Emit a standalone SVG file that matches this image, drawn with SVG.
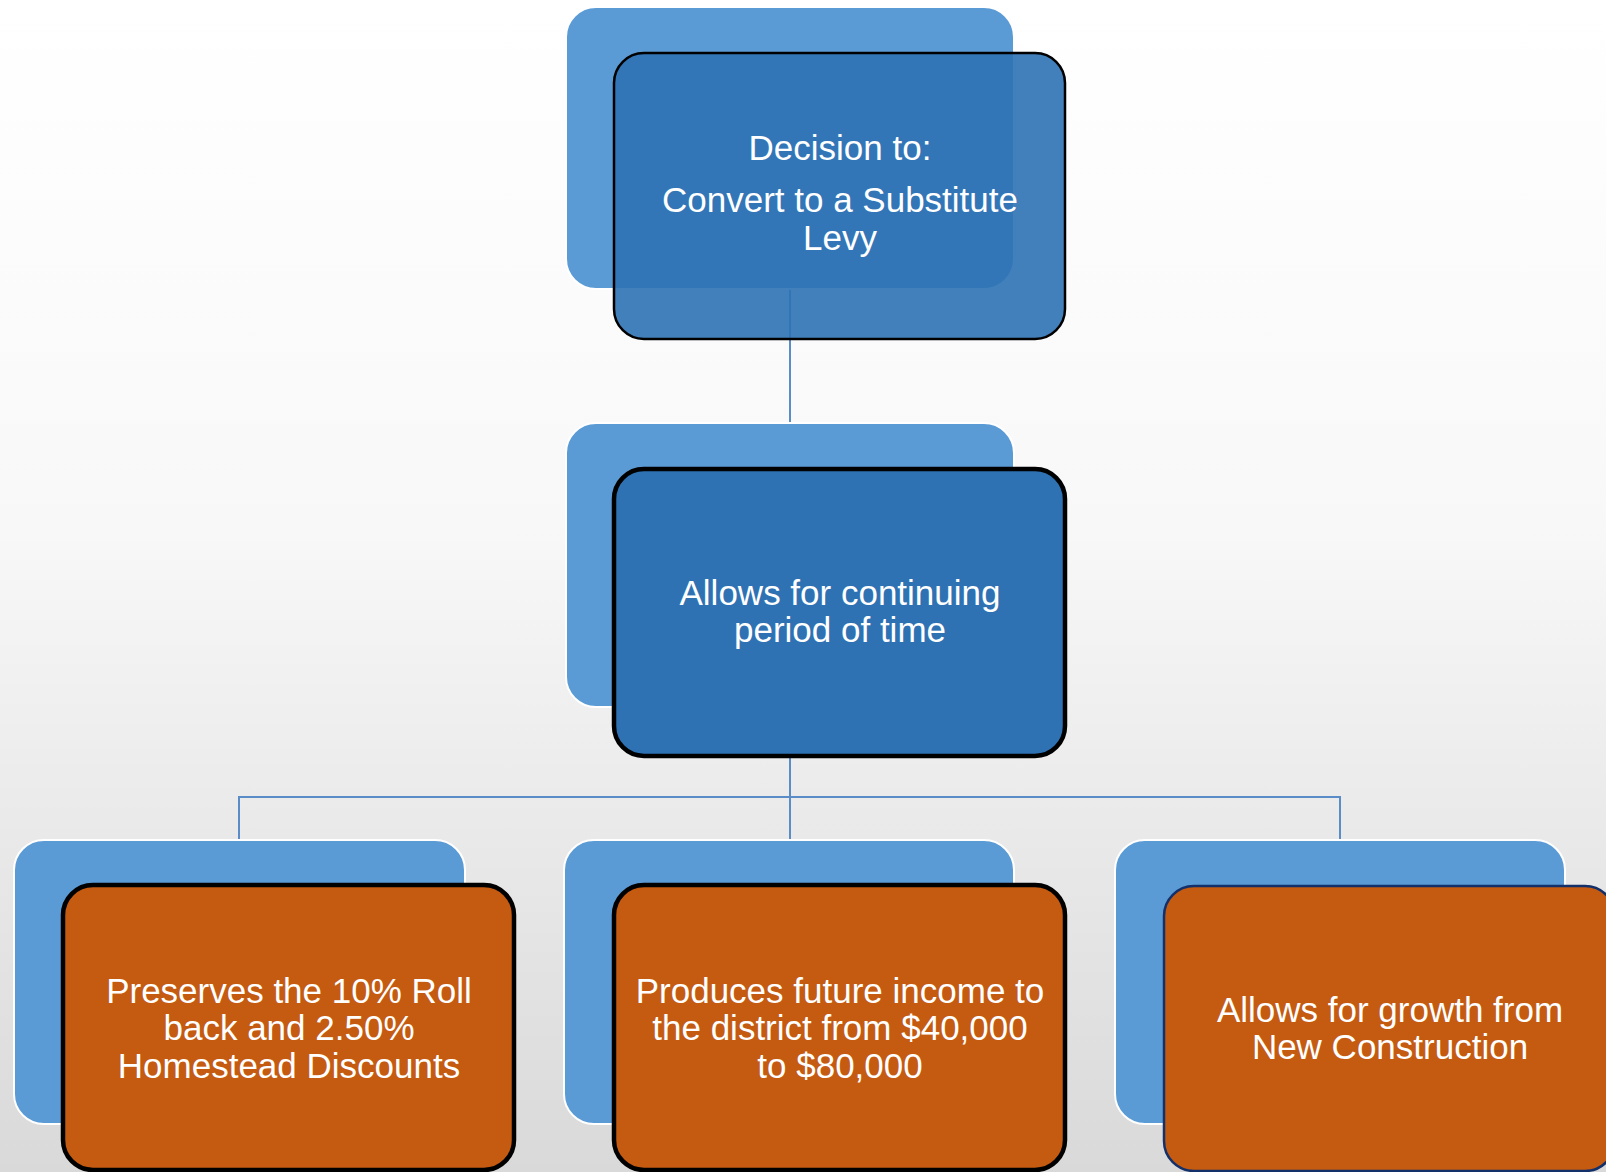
<svg xmlns="http://www.w3.org/2000/svg" width="1606" height="1172" viewBox="0 0 1606 1172">
<defs>
<linearGradient id="bg" x1="0" y1="0" x2="0" y2="1">
<stop offset="0" stop-color="#ffffff"/>
<stop offset="0.45" stop-color="#f8f8f8"/>
<stop offset="1" stop-color="#d9d9d9"/>
</linearGradient>
</defs>
<style>
.back{fill:#5b9bd5;stroke:#ffffff;stroke-width:2}
.blue{fill:#2e72b4}
.orange{fill:#c55a11}
.thick{stroke:#000;stroke-width:4.5}
.thin{stroke:#000;stroke-width:2.5}
.navy{stroke:#13306a;stroke-width:2.5}
.conn{fill:none;stroke:#5a8cc7;stroke-width:2}
text{font-family:"Liberation Sans",Arial,sans-serif;font-size:35px;fill:#ffffff;text-anchor:middle}
</style>
<rect x="0" y="0" width="1606" height="1172" fill="url(#bg)"/>
<g id="connectors">
<line class="conn" x1="790" y1="290" x2="790" y2="423"/>
<line class="conn" x1="790" y1="707" x2="790" y2="840"/>
<polyline class="conn" points="239,840 239,797 1340,797 1340,840"/>
</g>
<g id="node-decision">
<rect class="back" x="566" y="7" width="448" height="282" rx="30"/>
<rect class="blue thin" x="614" y="53" width="451" height="286" rx="30" fill-opacity="0.9"/>
<text x="840" y="160">Decision to:</text>
<text x="840" y="212">Convert to a Substitute</text>
<text x="840" y="250">Levy</text>
</g>
<g id="node-allows">
<rect class="back" x="566" y="423" width="448" height="284" rx="30"/>
<rect class="blue thick" x="614" y="469" width="451" height="287" rx="30"/>
<text x="840" y="605">Allows for continuing</text>
<text x="840" y="642">period of time</text>
</g>
<g id="node-preserves">
<rect class="back" x="14" y="840" width="451" height="284" rx="30"/>
<rect class="orange thick" x="63" y="885" width="451" height="285" rx="30"/>
<text x="289" y="1003">Preserves the 10% Roll</text>
<text x="289" y="1040">back and 2.50%</text>
<text x="289" y="1078">Homestead Discounts</text>
</g>
<g id="node-produces">
<rect class="back" x="564" y="840" width="450" height="284" rx="30"/>
<rect class="orange thick" x="614" y="885" width="451" height="285" rx="30"/>
<text x="840" y="1003">Produces future income to</text>
<text x="840" y="1040">the district from $40,000</text>
<text x="840" y="1078">to $80,000</text>
</g>
<g id="node-growth">
<rect class="back" x="1115" y="840" width="450" height="284" rx="30"/>
<rect class="orange navy" x="1164" y="886" width="451" height="285" rx="30"/>
<text x="1390" y="1022">Allows for growth from</text>
<text x="1390" y="1059">New Construction</text>
</g>
</svg>
